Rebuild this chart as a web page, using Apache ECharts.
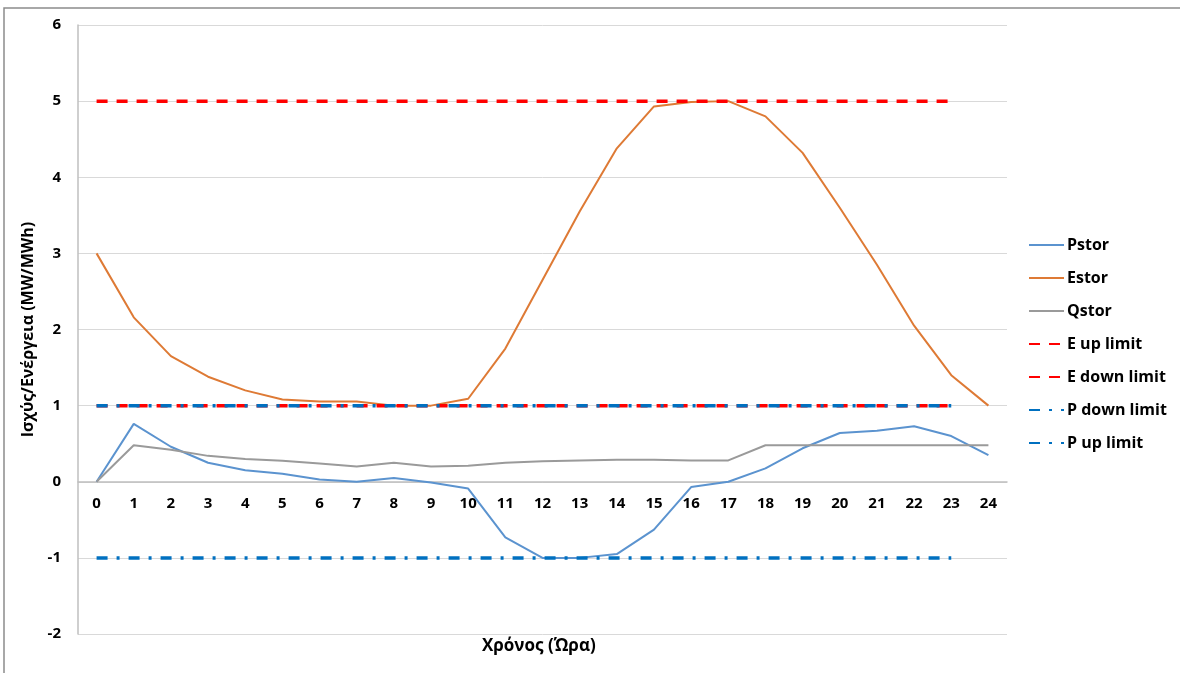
<!DOCTYPE html>
<html>
<head>
<meta charset="utf-8">
<script src="https://cdn.jsdelivr.net/npm/echarts@6/dist/echarts.min.js"></script>
<style>html,body{margin:0;padding:0;background:#fff;}#c{width:1180px;height:673px;}</style>
</head>
<body>
<div id="c"></div>
<script>
const hours = ['0','1','2','3','4','5','6','7','8','9','10','11','12','13','14','15','16','17','18','19','20','21','22','23','24'];
const pstor = [0, 0.76, 0.46, 0.25, 0.15, 0.105, 0.03, 0.0, 0.05, -0.01, -0.09, -0.73, -1.0, -1.0, -0.95, -0.63, -0.07, 0.0, 0.175, 0.44, 0.64, 0.67, 0.73, 0.60, 0.35];
const estor = [3.0, 2.16, 1.65, 1.38, 1.20, 1.08, 1.055, 1.055, 1.0, 1.0, 1.09, 1.75, 2.65, 3.55, 4.38, 4.93, 4.99, 5.0, 4.8, 4.32, 3.6, 2.85, 2.05, 1.4, 1.0];
const qstor = [0, 0.48, 0.42, 0.34, 0.30, 0.275, 0.24, 0.20, 0.25, 0.20, 0.21, 0.25, 0.27, 0.28, 0.29, 0.29, 0.28, 0.28, 0.48, 0.48, 0.48, 0.48, 0.48, 0.48, 0.48];
const eUpLimit = [5,5,5,5,5,5,5,5,5,5,5,5,5,5,5,5,5,5,5,5,5,5,5,5];
const eDownLimit = [1,1,1,1,1,1,1,1,1,1,1,1,1,1,1,1,1,1,1,1,1,1,1,1];
const pDownLimit = [-1,-1,-1,-1,-1,-1,-1,-1,-1,-1,-1,-1,-1,-1,-1,-1,-1,-1,-1,-1,-1,-1,-1,-1];
const pUpLimit = [1,1,1,1,1,1,1,1,1,1,1,1,1,1,1,1,1,1,1,1,1,1,1,1];
const yTitle = 'Ισχύς/Ενέργεια (MW/MWh)';
const xTitle = 'Χρόνος (Ώρα)';

const FONT = '"Open Sans"';
const chart = echarts.init(document.getElementById('c'), null, {renderer: 'canvas'});

function line(name, data, color, width, type) {
  return {
    name: name, type: 'line', data: data, symbol: 'none', showSymbol: false,
    animation: false,
    lineStyle: {color: color, width: width, type: type || 'solid', cap: 'butt'},
    itemStyle: {color: color},
    emphasis: {disabled: true}
  };
}

chart.setOption({
  backgroundColor: '#fff',
  animation: false,
  grid: {left: 78, right: 173, top: 25, bottom: 39, containLabel: false},
  graphic: [
    {type: 'rect', shape: {x: 4, y: 8, width: 1200, height: 700}, style: {fill: 'none', stroke: '#8c8c8c', lineWidth: 1.5}, silent: true, z: -10},
    {type: 'text', left: 482, top: 638, style: {text: xTitle, font: 'bold 17px ' + FONT, fill: '#000'}}
  ],
  legend: {
    orient: 'vertical', left: 1023, top: 232,
    itemWidth: 35, itemHeight: 14, itemGap: 17,
    itemStyle: {opacity: 0},
    textStyle: {fontFamily: FONT, fontWeight: 'bold', fontSize: 16, lineHeight: 16, color: '#000', padding: [0,0,0,-2]},
    data: ['Pstor','Estor','Qstor','E up limit','E down limit','P down limit','P up limit']
  },
  xAxis: {
    type: 'category', data: hours, boundaryGap: true,
    position: 'bottom', offset: -152,
    axisLine: {onZero: false, lineStyle: {color: '#bfbfbf', width: 1.5}},
    axisTick: {show: false},
    axisLabel: {fontFamily: FONT, fontWeight: 'bold', fontSize: 15, color: '#000', margin: 14},
    splitLine: {show: false}
  },
  yAxis: {
    type: 'value', min: -2, max: 6, interval: 1,
    name: yTitle, nameLocation: 'middle', nameGap: 37,
    nameTextStyle: {fontFamily: FONT, fontWeight: 'bold', fontSize: 16, color: '#000'},
    axisLine: {show: true, lineStyle: {color: '#bfbfbf', width: 1.5}},
    axisTick: {show: false},
    axisLabel: {fontFamily: FONT, fontWeight: 'bold', fontSize: 15, color: '#000', margin: 17},
    splitLine: {show: true, lineStyle: {color: '#d9d9d9', width: 1}}
  },
  series: [
    line('Pstor', pstor, '#5b93cf', 2),
    line('Estor', estor, '#de7a35', 2),
    line('Qstor', qstor, '#9a9a9a', 2),
    line('E up limit', eUpLimit, '#ff0000', 3.5, [11, 9]),
    line('E down limit', eDownLimit, '#ff0000', 3.5, [11, 9]),
    line('P down limit', pDownLimit, '#0070c0', 3.5, [11, 9, 3, 9]),
    line('P up limit', pUpLimit, '#0070c0', 3.5, [11, 9, 3, 9])
  ]
});
</script>
</body>
</html>
